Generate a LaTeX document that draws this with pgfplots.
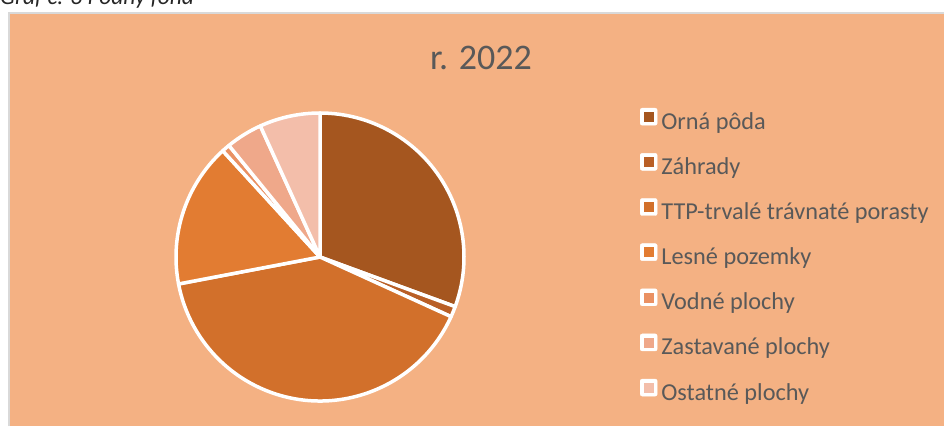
\documentclass[border=0pt]{standalone}
\usepackage{fontspec}
\setmainfont{Carlito}
\usepackage{pgfplots}
\usepackage{pgfplotstable}
\pgfplotsset{compat=1.18}
\definecolor{bg}{HTML}{F4B183}
\definecolor{tgray}{HTML}{595959}
\definecolor{capc}{HTML}{262626}
\definecolor{frame}{HTML}{D9D9D9}
\definecolor{c0}{HTML}{A5561F}
\definecolor{c1}{HTML}{B95F26}
\definecolor{c2}{HTML}{D2702B}
\definecolor{c3}{HTML}{E27C32}
\definecolor{c4}{HTML}{EA9163}
\definecolor{c5}{HTML}{EFA88A}
\definecolor{c6}{HTML}{F3BEAA}

\pgfplotstableread{
name value
orna 30.6
zahrady 1.2
ttp 40.2
lesne 16.2
vodne 0.9
zastavane 4.1
ostatne 6.8
}\landdata

\pgfplotsset{lkey/.style={legend image code/.code={%
  \fill[white, rounded corners=2pt] (0pt,-1.5pt) rectangle (17pt,15.5pt);
  \fill[#1] (4pt,2.5pt) rectangle (13pt,11.5pt);}}}

\begin{document}
\begin{tikzpicture}[x=1pt,y=1pt]
\useasboundingbox (0,0) rectangle (944,426);
\clip (0,0) rectangle (944,426);
\fill[white] (0,0) rectangle (944,426);
\fill[bg] (8,0) rectangle (944,413.5);
\draw[line width=1.5pt, frame] (8.75,0) -- (8.75,412.75) -- (944,412.75);
\node[anchor=base west, font=\fontsize{23.5}{28}\selectfont\itshape, text=capc, inner sep=0pt] at (0,421) {Graf č. 3 Pôdny fond};
\node[anchor=base, font=\fontsize{36}{43}\selectfont, text=tgray, inner sep=0pt] at (481,356.7) {r. 2022};

\def\cum{0}
\pgfplotsforeachungrouped \i in {0,...,6}{%
  \pgfplotstablegetelem{\i}{value}\of\landdata
  \pgfmathsetmacro\sa{90-3.6*\cum}%
  \pgfmathsetmacro\cum{\cum+\pgfplotsretval}%
  \pgfmathsetmacro\sb{90-3.6*\cum}%
  \expandafter\xdef\csname sA\i\endcsname{\sa}%
  \expandafter\xdef\csname sB\i\endcsname{\sb}%
}

\begin{axis}[anchor=origin, at={(320pt,169pt)}, x=144pt, y=144pt,
  xmin=-1, xmax=1, ymin=-1, ymax=1, hide axis, clip=false,
  legend cell align=left,
  legend style={at={(axis description cs:1.6111,1.0174)}, anchor=north west,
    draw=none, fill=none, inner sep=0pt, outer sep=0pt,
    row sep=17.95pt, column sep=4pt,
    font=\fontsize{24.3}{29}\selectfont, text=tgray,
    nodes={inner sep=0pt, text height=17pt, text depth=6pt}}]
\pgfplotsinvokeforeach{0,...,6}{%
  \edef\temp{\noexpand\filldraw[fill=c#1, draw=white, line width=3.5pt, line join=round] (axis cs:0,0) -- ++(\csname sA#1\endcsname:144pt) arc[start angle=\csname sA#1\endcsname, end angle=\csname sB#1\endcsname, radius=144pt] -- cycle;}%
  \temp
}
\addlegendimage{lkey=c0}\addlegendentry{Orná pôda}
\addlegendimage{lkey=c1}\addlegendentry{Záhrady}
\addlegendimage{lkey=c2}\addlegendentry{TTP-trvalé trávnaté porasty}
\addlegendimage{lkey=c3}\addlegendentry{Lesné pozemky}
\addlegendimage{lkey=c4}\addlegendentry{Vodné plochy}
\addlegendimage{lkey=c5}\addlegendentry{Zastavané plochy}
\addlegendimage{lkey=c6}\addlegendentry{Ostatné plochy}
\end{axis}
\end{tikzpicture}
\end{document}
